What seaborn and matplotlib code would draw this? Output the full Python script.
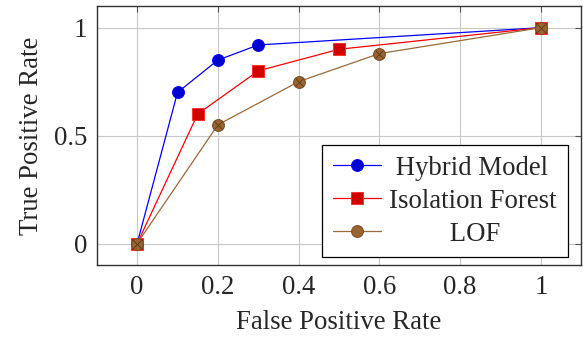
import numpy as np
import pandas as pd
import matplotlib
matplotlib.use("Agg")
import matplotlib.pyplot as plt
import seaborn as sns

# ROC curve points
hybrid_fpr = [0.0, 0.1, 0.2, 0.3, 1.0]
hybrid_tpr = [0.0, 0.7, 0.85, 0.92, 1.0]
iso_fpr = [0.0, 0.15, 0.3, 0.5, 1.0]
iso_tpr = [0.0, 0.6, 0.8, 0.9, 1.0]
lof_fpr = [0.0, 0.2, 0.4, 0.6, 1.0]
lof_tpr = [0.0, 0.55, 0.75, 0.88, 1.0]

names = ['Hybrid Model', 'Isolation Forest', 'LOF']
x_ticks = [0, 0.2, 0.4, 0.6, 0.8, 1]
x_labels = ["0", "0.2", "0.4", "0.6", "0.8", "1"]
y_ticks = [0, 0.5, 1]
y_labels = ["0", "0.5", "1"]

sns.set_style("white")
plt.rcParams['font.family'] = ['Liberation Serif', 'DejaVu Serif']

fs = 19.3
fig, ax = plt.subplots(figsize=(5.83, 3.39), dpi=100)
fig.subplots_adjust(left=0.166, right=0.997, top=0.982, bottom=0.218)

ax.grid(True, color='#c8c8c8', linewidth=0.8)
ax.set_axisbelow(True)

sns.lineplot(x=hybrid_fpr, y=hybrid_tpr, ax=ax, color='#0000ff', lw=0.9,
             marker='o', markersize=8.5, markerfacecolor='#0000d0',
             markeredgecolor='#0000ff', label=names[0], sort=False)
sns.lineplot(x=iso_fpr, y=iso_tpr, ax=ax, color='#ff0000', lw=0.9,
             marker='s', markersize=8, markerfacecolor='#d00000',
             markeredgecolor='#ff3030', label=names[1], sort=False)
sns.lineplot(x=lof_fpr, y=lof_tpr, ax=ax, color='#9a6a3a', lw=0.9,
             marker='o', markersize=8.5, markerfacecolor='#9a6430',
             markeredgecolor='#7a4c22', label=names[2], sort=False)
# the crossed-circle look of the LOF marks
ax.plot(lof_fpr, lof_tpr, linestyle='none', marker='x', markersize=5.5,
        markeredgecolor='#5a3a18', markeredgewidth=0.6)

ax.set_xlim(-0.1, 1.1)
ax.set_ylim(-0.1, 1.1)
ax.set_xticks(x_ticks)
ax.set_xticklabels(x_labels)
ax.set_yticks(y_ticks)
ax.set_yticklabels(y_labels)
ax.tick_params(direction='in', length=4, labelsize=fs, top=True, right=True,
               color='#555555', pad=7)
for s in ax.spines.values():
    s.set_color('#333333')
    s.set_linewidth(1.0)

ax.set_xlabel('False Positive Rate', fontsize=fs, labelpad=7)
ax.set_ylabel('True Positive Rate', fontsize=fs, labelpad=7)

# legend labels centred like pgfplots: pad with spaces to equal width
renderer = fig.canvas.get_renderer()
def text_w(s):
    t = fig.text(0, 0, s, fontsize=fs)
    w = t.get_window_extent(renderer).width
    t.remove()
    return w

widths = [text_w(n) for n in names]
spw = text_w('a a') - text_w('aa')
wmax = max(widths)
labels = [' ' * int(round((wmax - w) / 2 / spw)) + n for n, w in zip(names, widths)]

handles, _ = ax.get_legend_handles_labels()
handles = handles[:3]
leg = ax.legend(handles, labels, loc='lower right', fontsize=fs, frameon=True,
                fancybox=False, edgecolor='black', framealpha=1,
                borderpad=0.4, labelspacing=0.3, handlelength=1.8,
                handletextpad=0.3, borderaxespad=0,
                bbox_to_anchor=(0.972, 0.03))
leg.get_frame().set_linewidth(0.9)

plt.savefig('out.png', dpi=100)
